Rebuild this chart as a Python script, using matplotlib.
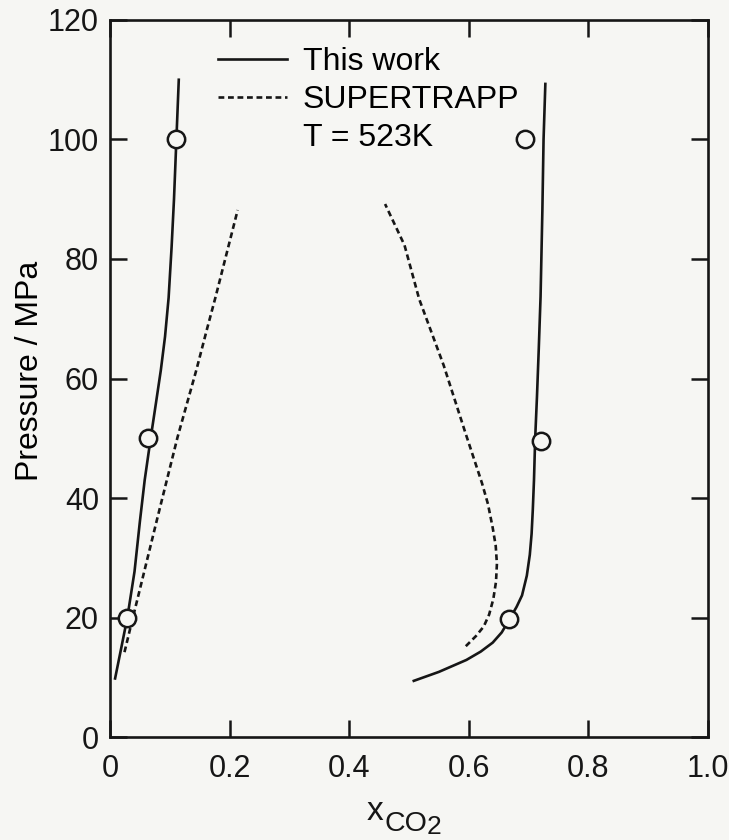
import matplotlib
matplotlib.use("Agg")
import matplotlib.pyplot as plt
from matplotlib.lines import Line2D

plt.rcParams['font.family'] = ['Liberation Sans', 'DejaVu Sans']

# Calculated phase boundaries, this work (water-rich / CO2-rich branches)
work_liq_x = [0.0085, 0.019, 0.029, 0.041, 0.050, 0.058, 0.068, 0.077, 0.085,
              0.092, 0.098, 0.103, 0.107, 0.111, 0.115]
work_liq_p = [9.8, 15.0, 20.0, 27.7, 36.1, 43.0, 50.0, 56.0, 61.4,
              67.0, 73.5, 82.0, 90.0, 100.0, 110.0]
work_vap_x = [0.508, 0.550, 0.596, 0.620, 0.640, 0.655, 0.668, 0.680, 0.689,
              0.697, 0.702, 0.705, 0.707, 0.709, 0.711, 0.714, 0.717, 0.720,
              0.723, 0.725, 0.728]
work_vap_p = [9.4, 10.9, 12.9, 14.3, 15.8, 17.5, 19.7, 21.8, 23.7,
              27.0, 30.5, 34.0, 38.0, 43.0, 50.0, 57.0, 65.0, 73.7,
              88.0, 100.0, 109.3]

# SUPERTRAPP predictions
st_liq_x = [0.0242, 0.038, 0.0462, 0.0683, 0.0781, 0.113, 0.1446, 0.162, 0.1764, 0.2135]
st_liq_p = [14.2, 19.9, 23.2, 32.2, 36.2, 50.2, 61.5, 68.2, 73.6, 88.2]
st_vap_x = [0.595, 0.612, 0.625, 0.634, 0.641, 0.6455, 0.647, 0.645, 0.640,
            0.632, 0.622, 0.594, 0.558, 0.517, 0.4925, 0.460]
st_vap_p = [15.2, 16.9, 18.5, 20.5, 23.1, 26.0, 29.0, 32.0, 35.0,
            39.0, 42.5, 51.0, 62.2, 73.3, 82.3, 89.2]

# Experimental points
exp_x = [0.029, 0.064, 0.111, 0.668, 0.721, 0.694]
exp_p = [20.0, 50.0, 100.0, 19.7, 49.6, 100.0]

xticks = [0, 0.2, 0.4, 0.6, 0.8, 1.0]
xticklabels = ['0', '0.2', '0.4', '0.6', '0.8', '1.0']
yticks = [0, 20, 40, 60, 80, 100, 120]

bg = '#f6f6f3'
ink = '#161616'

fig = plt.figure(figsize=(7.29, 8.40), dpi=100, facecolor=bg)
ax = fig.add_axes([0.1509, 0.1226, 0.8203, 0.8536], facecolor=bg)

lw = 1.9
dash = (0, (2.2, 1.4))
ax.plot(work_liq_x, work_liq_p, color=ink, lw=lw)
ax.plot(work_vap_x, work_vap_p, color=ink, lw=lw)
ax.plot(st_liq_x, st_liq_p, color=ink, lw=lw, linestyle=dash)
ax.plot(st_vap_x, st_vap_p, color=ink, lw=lw, linestyle=dash)
ax.plot(exp_x, exp_p, linestyle='none', marker='o', markersize=12.5,
        markerfacecolor=bg, markeredgecolor=ink, markeredgewidth=1.8, zorder=5)

ax.set_xlim(0, 1.0)
ax.set_ylim(0, 120)
ax.set_xticks(xticks)
ax.set_xticklabels(xticklabels)
ax.set_yticks(yticks)
for s in ax.spines.values():
    s.set_linewidth(1.9)
    s.set_color(ink)
ax.tick_params(direction='in', length=12, width=1.8, colors=ink,
               top=True, right=True, labelsize=22)
ax.tick_params(axis='x', pad=12)
ax.tick_params(axis='y', pad=8)

handles = [Line2D([], [], color=ink, lw=lw),
           Line2D([], [], color=ink, lw=lw, linestyle=dash),
           Line2D([], [], color='none')]
labels = ['This work', 'SUPERTRAPP', 'T = 523K']
ax.legend(handles, labels, loc='upper left', bbox_to_anchor=(0.18, 0.962),
          frameon=False, fontsize=23, handlelength=2.16, handletextpad=0.5,
          borderpad=0, borderaxespad=0, labelspacing=0.25)

ax.set_ylabel('Pressure / MPa', fontsize=23)
ax.yaxis.set_label_coords(-0.108, 0.51)

# x-axis label: x with CO2 subscript
fig.text(367 / 729, 1 - 820 / 840, 'x', fontsize=24, color=ink, va='baseline')
fig.text(385 / 729, 1 - 831 / 840, 'CO', fontsize=20.5, color=ink, va='baseline')
fig.text(427 / 729, 1 - 834 / 840, '2', fontsize=19, color=ink, va='baseline')

fig.savefig('out.png', dpi=100, facecolor=bg)
